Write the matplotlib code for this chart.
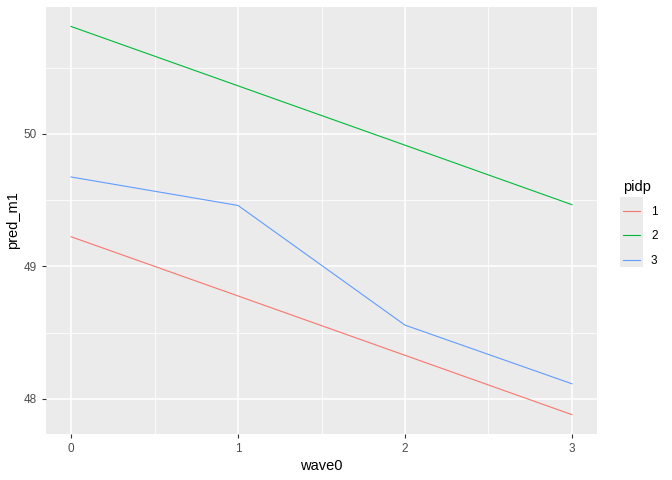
import matplotlib
matplotlib.use('Agg')
import matplotlib.pyplot as plt
from matplotlib.patches import Rectangle
import numpy as np

plt.rcParams['font.family'] = ['Liberation Sans', 'DejaVu Sans']

# predicted values per pidp across waves
wave0 = [0, 1, 2, 3]
pidp = ['1', '2', '3']
pred_1 = [49.223, 48.776, 48.328, 47.880]
pred_2 = [50.810, 50.362, 49.914, 49.465]
pred_3 = [49.674, 49.459, 48.556, 48.113]
colors = ['#F8766D', '#00BA38', '#619CFF']

fig = plt.figure(figsize=(6.72, 4.8), dpi=100)
ax = fig.add_axes([46/672, 1-434/480, (597-46)/672, (434-7)/480])
ax.set_facecolor('#EBEBEB')

lines = []
for y, c, lab in zip([pred_1, pred_2, pred_3], colors, pidp):
    l, = ax.plot(wave0, y, color=c, lw=0.8, label=lab)
    lines.append(l)

ax.set_xlim(-0.15, 3.15)
ax.set_ylim(47.734, 50.957)
ax.set_xticks([0, 1, 2, 3])
ax.set_yticks([48, 49, 50])
ax.set_xticks([0.5, 1.5, 2.5], minor=True)
ax.set_yticks([48.5, 49.5, 50.5], minor=True)
ax.grid(which='major', color='white', lw=1.1)
ax.grid(which='minor', color='white', lw=0.55)
ax.set_axisbelow(True)
for s in ax.spines.values():
    s.set_visible(False)
ax.tick_params(which='major', colors='#333333', labelcolor='#4D4D4D',
               labelsize=8.5, length=3, width=0.8)
ax.tick_params(which='minor', length=0)
ax.set_xlabel('wave0', fontsize=10.5, labelpad=3)
ax.set_ylabel('pred_m1', fontsize=10.5, labelpad=3)

# legend
fig.add_artist(Rectangle((620/672, 1-267/480), 23/672, 70/480,
                         transform=fig.transFigure, facecolor='#EBEBEB',
                         edgecolor='none', zorder=0))
leg = fig.legend(handles=lines, labels=pidp, title='pidp',
                 loc='upper left', bbox_to_anchor=(612/672, 1-169/480),
                 frameon=False, fontsize=8.5, title_fontsize=10.5,
                 handlelength=1.5, handletextpad=0.9, labelspacing=1.05)
leg._legend_box.align = 'left'

fig.savefig('out.png', dpi=100)
